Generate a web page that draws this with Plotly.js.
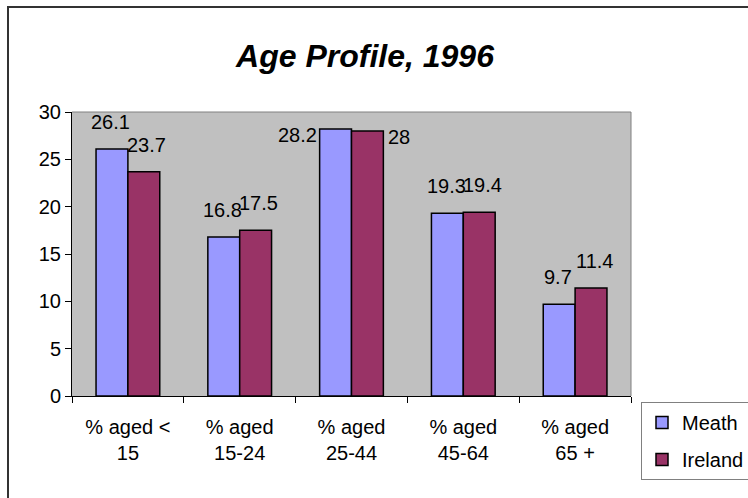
<!DOCTYPE html>
<html>
<head>
<meta charset="utf-8">
<script src="https://cdn.plot.ly/plotly-3.0.1.min.js"></script>
<style>
  html, body { margin: 0; padding: 0; background: #fff; overflow: hidden; }
  #chart { width: 748px; height: 498px; }
</style>
</head>
<body>
<div id="chart"></div>
<script>
// ---- data ----
const categories = ['% aged < 15', '% aged 15-24', '% aged 25-44', '% aged 45-64', '% aged 65 +'];
const tickLabels = ['% aged &lt;<br>15', '% aged<br>15-24', '% aged<br>25-44', '% aged<br>45-64', '% aged<br>65 +'];
const meath = [26.1, 16.8, 28.2, 19.3, 9.7];
const ireland = [23.7, 17.5, 28, 19.4, 11.4];
const seriesNames = ['Meath', 'Ireland'];
const titleText = 'Age Profile, 1996';

// ---- style ----
const FONT = '"Liberation Sans", Arial, sans-serif';
const W = 748, H = 498;
const M = { l: 72, r: 117, t: 112, b: 102, autoexpand: false };
const plotW = W - M.l - M.r, plotH = H - M.t - M.b;
const yMax = 30;
const bargap = 0.43;
const barW = (1 - bargap) / 2;   // in category units, per bar
const px2x = px => (px - M.l) / plotW;
const px2y = py => (H - M.b - py) / plotH;

const traces = [
  { type: 'bar', name: seriesNames[0], x: categories, y: meath, legendgroup: 'a',
    marker: { color: '#9999FF', line: { color: '#000', width: 1.5 } }, hoverinfo: 'none' },
  { type: 'bar', name: seriesNames[1], x: categories, y: ireland, legendgroup: 'b',
    marker: { color: '#993366', line: { color: '#000', width: 1.5 } }, hoverinfo: 'none' }
];

// data labels
const annotations = [];
const unitsPerPx = yMax / plotH;
[meath, ireland].forEach((vals, s) => {
  vals.forEach((v, i) => {
    const xc = i + (s === 0 ? -barW / 2 : barW / 2);
    const tooHigh = v + 35 * unitsPerPx > yMax;
    if (!tooHigh) {
      annotations.push({ x: xc, y: v, xref: 'x', yref: 'y', text: String(v), showarrow: false,
        xanchor: 'center', yanchor: 'bottom', yshift: 14, xshift: s === 0 ? -1 : 3,
        font: { family: FONT, size: 20, color: '#000' } });
    } else {
      annotations.push({ x: s === 0 ? i - barW : i + barW, y: v, xref: 'x', yref: 'y', text: String(v), showarrow: false,
        xanchor: s === 0 ? 'right' : 'left', yanchor: 'middle', yshift: -6, xshift: s === 0 ? -1 : 3,
        font: { family: FONT, size: 20, color: '#000' } });
    }
  });
});

const shapes = [
  // plot-area border (top & right, grey)
  { type: 'line', xref: 'paper', yref: 'paper', x0: 0, x1: 1, y0: 1, y1: 1, line: { color: '#808080', width: 1 } },
  { type: 'line', xref: 'paper', yref: 'paper', x0: 1, x1: 1, y0: 0, y1: 1, line: { color: '#808080', width: 1 } },
  // outer chart border
  { type: 'rect', xref: 'paper', yref: 'paper', x0: px2x(8), x1: px2x(W + 20), y0: px2y(H + 20), y1: px2y(7),
    line: { color: '#333', width: 2 }, fillcolor: 'rgba(0,0,0,0)' }
];

const layout = {
  width: W, height: H, margin: M,
  paper_bgcolor: '#fff', plot_bgcolor: '#C0C0C0',
  font: { family: FONT, size: 20, color: '#000' },
  title: { text: '<b><i>' + titleText + '</i></b>', font: { family: FONT, size: 32, color: '#000' },
    xref: 'container', x: 365 / W, xanchor: 'center', yref: 'container', y: 1 - 56 / H, yanchor: 'middle' },
  barmode: 'group', bargap: bargap, bargroupgap: 0,
  showlegend: true,
  legend: { x: px2x(641), xanchor: 'left', y: px2y(402), yanchor: 'top',
    bordercolor: '#808080', borderwidth: 1, bgcolor: '#fff',
    font: { family: FONT, size: 20, color: '#000' },
    traceorder: 'grouped', tracegroupgap: 8 },
  xaxis: { type: 'category', range: [-0.5, categories.length - 0.5], autorange: false,
    tickvals: categories, ticktext: tickLabels, tickson: 'boundaries',
    ticks: 'outside', ticklen: 6, tickcolor: '#000', showline: true, linecolor: '#000', linewidth: 1,
    showgrid: false, zeroline: false, fixedrange: true, ticklabelstandoff: 13,
    tickfont: { family: FONT, size: 20, color: '#000' } },
  yaxis: { range: [0, yMax], autorange: false, dtick: 5, tick0: 0, ticks: 'outside', ticklen: 6, tickcolor: '#000',
    showline: true, linecolor: '#000', linewidth: 1, showgrid: false, zeroline: false, fixedrange: true,
    tickfont: { family: FONT, size: 20, color: '#000' } },
  annotations: annotations,
  shapes: shapes
};

Plotly.newPlot('chart', traces, layout, { staticPlot: true, displayModeBar: false });
</script>
</body>
</html>
